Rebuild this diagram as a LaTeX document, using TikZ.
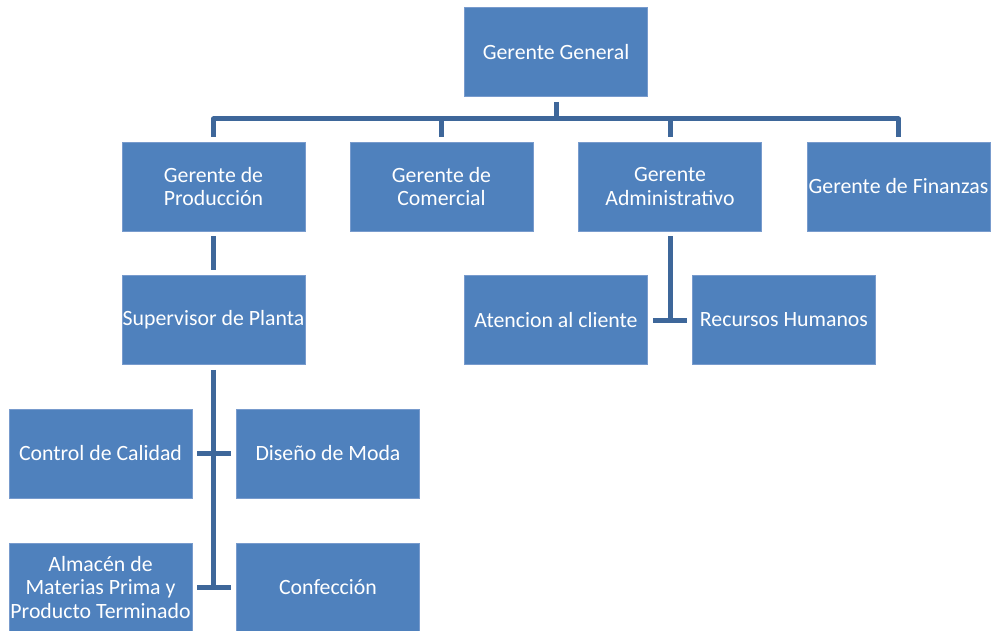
\documentclass[tikz,border=0pt]{standalone}
\usepackage{fontspec}
\setmainfont{Carlito}
\definecolor{boxfill}{RGB}{79,129,189}
\definecolor{boxedge}{RGB}{120,155,205}
\definecolor{linkcol}{RGB}{62,103,154}
\begin{document}
\begin{tikzpicture}[x=1pt,y=-1pt,
  orgbox/.style={rectangle, fill=boxfill, draw=boxedge, line width=0.8pt,
    minimum width=183pt, minimum height=89pt, inner sep=0pt,
    text=white, align=center, font=\fontsize{21.8}{23.5}\selectfont},
  link/.style={draw=linkcol, line width=5pt, line join=round}]
\useasboundingbox (0,0) rectangle (992,631);

% boxes
\node[orgbox] (gg)  at (556,52)    {Gerente General};
\node[orgbox] (gp)  at (213.5,186.5) {Gerente de\\Producción};
\node[orgbox] (gc)  at (441.5,186.5) {Gerente de\\Comercial};
\node[orgbox] (ga)  at (670,186.5)   {Gerente\\Administrativo};
\node[orgbox] (gf)  at (898.5,186.5) {Gerente de Finanzas};
\node[orgbox] (sp)  at (213.5,320)   {Supervisor de Planta};
\node[orgbox] (atc) at (556,320)     {Atencion al cliente};
\node[orgbox] (rh)  at (784,320)     {Recursos Humanos};
\node[orgbox] (cc)  at (100.5,453.5) {Control de Calidad};
\node[orgbox] (dm)  at (328,453.5)   {Diseño de Moda};
\node[orgbox] (alm) at (100.5,587.5) {Almacén de\\Materias Prima y\\Producto Terminado};
\node[orgbox] (cf)  at (328,587.5)   {Confección};

% top bar
\coordinate (bar) at (556,119);
\draw[link, shorten <=5pt] (gg.south) -- (gg.south |- bar);
\draw[link, shorten <=5pt, shorten >=5pt]
  (gp.north) -- (gp.north |- bar) -- (gf.north |- bar) -- (gf.north);
\draw[link, shorten <=5pt] (gc.north) -- (gc.north |- bar);
\draw[link, shorten <=5pt] (ga.north) -- (ga.north |- bar);

% production branch
\draw[link, shorten <=5pt, shorten >=5pt] (gp.south) -- (sp.north);
\draw[link, shorten <=5pt] (sp.south) -- (sp.south |- alm.east);
\draw[link, shorten <=5pt, shorten >=5pt] (cc.east) -- (dm.west);
\draw[link, shorten <=5pt, shorten >=5pt] (alm.east) -- (cf.west);

% administration branch
\draw[link, shorten <=5pt] (ga.south) -- (ga.south |- atc.east);
\draw[link, shorten <=5pt, shorten >=5pt] (atc.east) -- (rh.west);
\end{tikzpicture}
\end{document}
